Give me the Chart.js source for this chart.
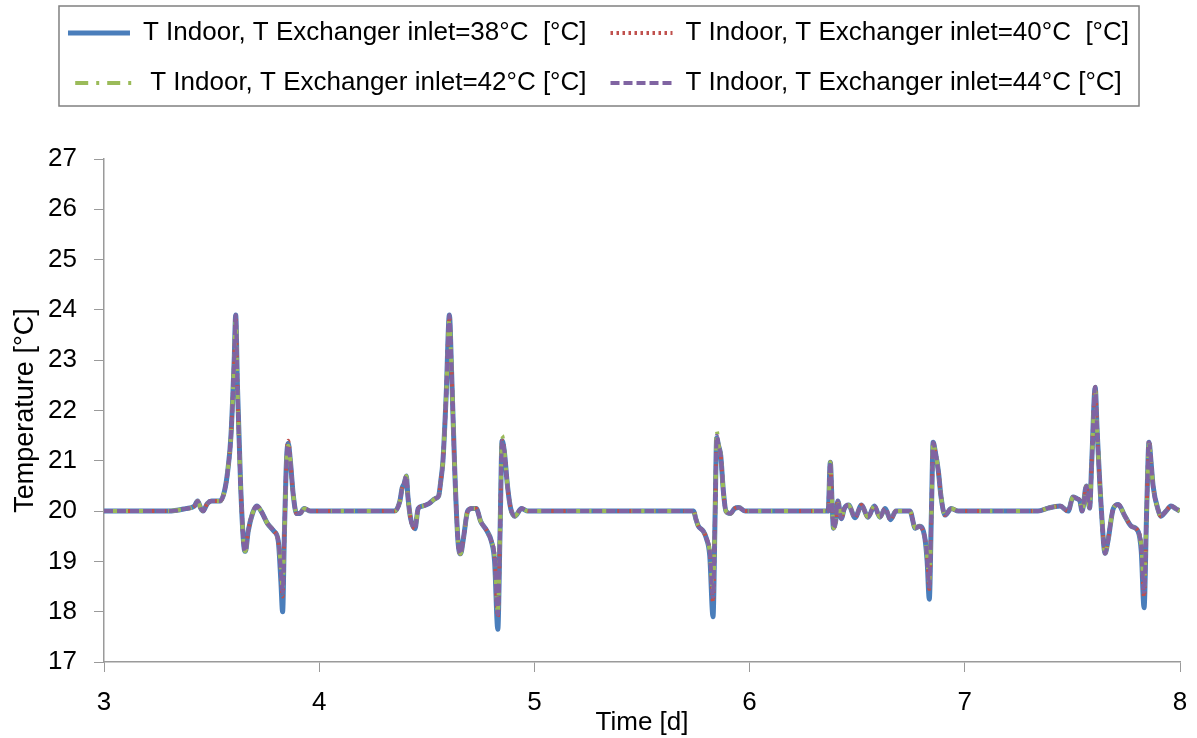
<!DOCTYPE html>
<html lang="en">
<head>
  <meta charset="UTF-8" />
  <title>T Indoor vs exchanger inlet temperature</title>
  <script src="https://cdn.jsdelivr.net/npm/chart.js"></script>
  <style>
    body { margin: 0; background: #fff; }
    canvas { display: block; }
  </style>
</head>
<body>
  <canvas id="tempChart" width="1197" height="738"></canvas>

  <script>
    // time axis, days (shared by all four runs)
    const timeDays = [
      3.00, 3.30, 3.38, 3.42, 3.435, 3.45, 3.46, 3.48, 3.50, 3.54, 3.56, 3.575, 3.59, 3.605, 3.612, 3.62, 3.635, 3.65, 3.657, 3.67, 3.69, 3.71, 3.73, 3.76, 3.79, 3.81, 3.822, 3.83, 3.838, 3.848, 3.856, 3.866, 3.88, 3.895, 3.91, 3.93, 3.96,
      4.35, 4.375, 4.385, 4.395, 4.405, 4.412, 4.425, 4.445, 4.46, 4.48, 4.51, 4.54, 4.555, 4.565, 4.575, 4.59, 4.605, 4.615, 4.63, 4.645, 4.657, 4.67, 4.69, 4.71, 4.73, 4.75, 4.78, 4.80, 4.815, 4.83, 4.84, 4.85, 4.86, 4.875, 4.89, 4.91, 4.94, 4.97,
      5.74, 5.75, 5.762, 5.785, 5.80, 5.815, 5.83, 5.84, 5.847, 5.856, 5.866, 5.878, 5.89, 5.91, 5.93, 5.95, 5.98,
      6.365, 6.375, 6.383, 6.39, 6.40, 6.41, 6.426, 6.44, 6.46, 6.49, 6.52, 6.55, 6.58, 6.605, 6.63, 6.655, 6.68, 6.745, 6.77, 6.79, 6.815, 6.825, 6.835, 6.845, 6.853, 6.862, 6.877, 6.89, 6.908, 6.937, 6.97,
      7.34, 7.387, 7.443, 7.48, 7.503, 7.52, 7.535, 7.545, 7.565, 7.58, 7.59, 7.606, 7.615, 7.635, 7.652, 7.665, 7.69, 7.713, 7.744, 7.774, 7.805, 7.82, 7.833, 7.845, 7.856, 7.865, 7.875, 7.90, 7.91, 7.935, 7.958, 7.98, 8.00
    ];

    // T indoor [°C] per exchanger inlet temperature
    const tIndoor38 = [
      20.00, 20.00, 20.05, 20.10, 20.20, 20.05, 20.00, 20.15, 20.20, 20.20, 20.40, 20.80, 21.50, 23.00, 23.90, 22.50, 20.50, 19.30, 19.20, 19.60, 19.95, 20.10, 20.00, 19.75, 19.60, 19.40, 18.60, 18.00, 19.50, 21.00, 21.35, 21.00, 20.30, 19.95, 19.95, 20.05, 20.00,
      20.00, 20.20, 20.45, 20.55, 20.70, 20.30, 19.85, 19.65, 20.05, 20.10, 20.15, 20.25, 20.30, 20.60, 21.00, 22.30, 23.90, 22.80, 20.80, 19.40, 19.15, 19.45, 20.00, 20.05, 20.05, 19.80, 19.60, 19.40, 19.00, 17.65, 19.50, 21.40, 21.20, 20.50, 20.05, 19.90, 20.05, 20.00,
      20.00, 19.85, 19.70, 19.60, 19.45, 19.10, 17.90, 20.00, 21.45, 21.30, 21.10, 20.40, 20.00, 19.95, 20.05, 20.07, 20.00,
      20.00, 20.97, 20.20, 19.66, 19.80, 20.20, 19.85, 20.05, 20.12, 19.87, 20.12, 19.88, 20.10, 19.88, 20.05, 19.83, 20.00, 20.00, 19.66, 19.70, 19.45, 19.00, 18.25, 20.00, 21.37, 21.20, 20.80, 20.27, 19.92, 20.05, 20.00,
      20.00, 20.06, 20.10, 20.00, 20.28, 20.25, 20.20, 20.00, 20.50, 20.06, 21.00, 22.46, 21.60, 20.00, 19.16, 19.40, 20.05, 20.13, 19.90, 19.70, 19.60, 19.20, 18.08, 20.00, 21.37, 21.00, 20.50, 20.00, 19.90, 20.00, 20.10, 20.05, 20.00
    ];
    const tIndoor40 = [
      20.00, 20.00, 20.05, 20.10, 20.20, 20.05, 20.00, 20.15, 20.20, 20.20, 20.40, 20.80, 21.50, 23.00, 23.85, 22.50, 20.50, 19.30, 19.20, 19.60, 19.95, 20.10, 20.00, 19.75, 19.60, 19.40, 18.80, 18.30, 19.50, 21.00, 21.40, 21.00, 20.30, 19.95, 19.95, 20.05, 20.00,
      20.00, 20.20, 20.45, 20.55, 20.70, 20.30, 19.85, 19.65, 20.05, 20.10, 20.15, 20.25, 20.30, 20.60, 21.00, 22.30, 23.85, 22.80, 20.80, 19.40, 19.15, 19.45, 20.00, 20.05, 20.05, 19.80, 19.60, 19.40, 19.10, 17.90, 19.50, 21.40, 21.20, 20.50, 20.05, 19.90, 20.05, 20.00,
      20.00, 19.85, 19.70, 19.60, 19.45, 19.20, 18.20, 20.00, 21.45, 21.30, 21.10, 20.40, 20.00, 19.95, 20.05, 20.07, 20.00,
      20.00, 20.97, 20.20, 19.66, 19.80, 20.20, 19.85, 20.05, 20.12, 19.87, 20.12, 19.88, 20.10, 19.88, 20.05, 19.83, 20.00, 20.00, 19.66, 19.70, 19.45, 19.10, 18.45, 20.00, 21.37, 21.20, 20.80, 20.27, 19.92, 20.05, 20.00,
      20.00, 20.06, 20.10, 20.00, 20.28, 20.25, 20.20, 20.00, 20.50, 20.06, 21.00, 22.46, 21.60, 20.00, 19.16, 19.40, 20.05, 20.13, 19.90, 19.70, 19.60, 19.30, 18.30, 20.00, 21.40, 21.00, 20.50, 20.00, 19.90, 20.00, 20.10, 20.05, 20.00
    ];
    const tIndoor42 = [
      20.00, 20.00, 20.05, 20.10, 20.20, 20.05, 20.00, 20.15, 20.20, 20.20, 20.40, 20.80, 21.50, 23.00, 23.80, 22.50, 20.50, 19.30, 19.20, 19.60, 19.95, 20.10, 20.00, 19.75, 19.60, 19.40, 18.90, 18.50, 19.50, 21.00, 21.30, 21.00, 20.30, 19.95, 19.95, 20.05, 20.00,
      20.00, 20.20, 20.45, 20.55, 20.70, 20.30, 19.85, 19.65, 20.05, 20.10, 20.15, 20.25, 20.30, 20.60, 21.00, 22.30, 23.80, 22.80, 20.80, 19.40, 19.15, 19.45, 20.00, 20.05, 20.05, 19.80, 19.60, 19.40, 19.10, 18.00, 19.50, 21.50, 21.20, 20.50, 20.05, 19.90, 20.05, 20.00,
      20.00, 19.85, 19.70, 19.60, 19.45, 19.20, 18.40, 20.00, 21.60, 21.30, 21.10, 20.40, 20.00, 19.95, 20.05, 20.07, 20.00,
      20.00, 20.97, 20.20, 19.66, 19.80, 20.20, 19.85, 20.05, 20.12, 19.87, 20.12, 19.88, 20.10, 19.88, 20.05, 19.83, 20.00, 20.00, 19.66, 19.70, 19.45, 19.10, 18.60, 20.00, 21.37, 21.20, 20.80, 20.27, 19.92, 20.05, 20.00,
      20.00, 20.06, 20.10, 20.00, 20.28, 20.25, 20.20, 20.00, 20.50, 20.06, 21.00, 22.40, 21.60, 20.00, 19.16, 19.40, 20.05, 20.13, 19.90, 19.70, 19.60, 19.30, 18.50, 20.00, 21.35, 21.00, 20.50, 20.00, 19.90, 20.00, 20.10, 20.05, 20.00
    ];
    const tIndoor44 = [
      20.00, 20.00, 20.05, 20.10, 20.20, 20.05, 20.00, 20.15, 20.20, 20.20, 20.40, 20.80, 21.50, 23.00, 23.90, 22.50, 20.50, 19.30, 19.20, 19.60, 19.95, 20.10, 20.00, 19.75, 19.60, 19.40, 18.85, 18.40, 19.50, 21.00, 21.30, 21.00, 20.30, 19.95, 19.95, 20.05, 20.00,
      20.00, 20.20, 20.45, 20.55, 20.70, 20.30, 19.85, 19.65, 20.05, 20.10, 20.15, 20.25, 20.30, 20.60, 21.00, 22.30, 23.90, 22.80, 20.80, 19.40, 19.15, 19.45, 20.00, 20.05, 20.05, 19.80, 19.60, 19.40, 19.10, 17.95, 19.50, 21.40, 21.20, 20.50, 20.05, 19.90, 20.05, 20.00,
      20.00, 19.85, 19.70, 19.60, 19.45, 19.20, 18.30, 20.00, 21.50, 21.30, 21.10, 20.40, 20.00, 19.95, 20.05, 20.07, 20.00,
      20.00, 20.97, 20.20, 19.66, 19.80, 20.20, 19.85, 20.05, 20.12, 19.87, 20.12, 19.88, 20.10, 19.88, 20.05, 19.83, 20.00, 20.00, 19.66, 19.70, 19.45, 19.10, 18.50, 20.00, 21.37, 21.20, 20.80, 20.27, 19.92, 20.05, 20.00,
      20.00, 20.06, 20.10, 20.00, 20.28, 20.25, 20.20, 20.00, 20.50, 20.06, 21.00, 22.46, 21.60, 20.00, 19.16, 19.40, 20.05, 20.13, 19.90, 19.70, 19.60, 19.30, 18.40, 20.00, 21.37, 21.00, 20.50, 20.00, 19.90, 20.00, 20.10, 20.05, 20.00
    ];

    const seriesLabels = [
      'T Indoor, T Exchanger inlet=38°C  [°C]',
      'T Indoor, T Exchanger inlet=40°C  [°C]',
      'T Indoor, T Exchanger inlet=42°C [°C]',
      'T Indoor, T Exchanger inlet=44°C [°C]'
    ];

    const FONT = 'Liberation Sans, Arial, sans-serif';
    const AXIS_GREY = '#9a9a9a';

    function toPoints(values) {
      return timeDays.map((t, i) => ({ x: t, y: values[i] }));
    }

    // grey frame around the legend (Excel style)
    const legendFrame = {
      id: 'legendFrame',
      afterDraw(chart) {
        const lg = chart.legend;
        if (!lg || !lg.legendHitBoxes.length) return;
        const boxes = lg.legendHitBoxes;
        const left = Math.min(...boxes.map(b => b.left)) - 9;
        const right = Math.max(...boxes.map(b => b.left + b.width)) + 10;
        const { ctx } = chart;
        ctx.save();
        ctx.strokeStyle = '#808080';
        ctx.lineWidth = 1.5;
        ctx.strokeRect(left, lg.top + 10, right - left, lg.height - 10);
        ctx.restore();
      }
    };

    // legend lines get the dash and width of their series
    function legendLabels(chart) {
      const items = Chart.defaults.plugins.legend.labels.generateLabels(chart);
      items.forEach(item => {
        const ds = chart.data.datasets[item.datasetIndex];
        item.lineDash = ds.borderDash || [];
        item.lineWidth = ds.borderWidth;
        item.strokeStyle = ds.borderColor;
      });
      return items;
    }

    const ctx = document.getElementById('tempChart').getContext('2d');
    new Chart(ctx, {
      type: 'line',
      data: {
        datasets: [
          { label: seriesLabels[0], data: toPoints(tIndoor38), borderColor: '#4a7ebb', borderWidth: 5, order: 4 },
          { label: seriesLabels[1], data: toPoints(tIndoor40), borderColor: '#c0504d', borderWidth: 4, borderDash: [2.5, 3.5], order: 3 },
          { label: seriesLabels[2], data: toPoints(tIndoor42), borderColor: '#9bbb59', borderWidth: 4, borderDash: [13, 8, 3, 8], order: 2 },
          { label: seriesLabels[3], data: toPoints(tIndoor44), borderColor: '#8064a2', borderWidth: 4, borderDash: [9, 4], order: 1 }
        ]
      },
      options: {
        responsive: false,
        animation: false,
        layout: { padding: { top: -4, right: 0, bottom: 0, left: 0 } },
        elements: {
          point: { radius: 0 },
          line: { cubicInterpolationMode: 'monotone', fill: false, borderJoinStyle: 'round' }
        },
        scales: {
          x: {
            type: 'linear',
            min: 3,
            max: 8,
            ticks: { stepSize: 1, color: '#000', padding: 15, font: { family: FONT, size: 26 } },
            grid: { drawOnChartArea: false, color: AXIS_GREY, tickLength: 10 },
            border: { color: AXIS_GREY, width: 1.5 },
            title: { display: true, text: 'Time [d]', color: '#000', padding: { top: 0, bottom: 0 }, font: { family: FONT, size: 26 } },
            afterFit: s => { s.height = 76; s.paddingRight = 17; }
          },
          y: {
            min: 17,
            max: 27,
            ticks: { stepSize: 1, color: '#000', padding: 17, font: { family: FONT, size: 26 } },
            grid: { drawOnChartArea: false, color: AXIS_GREY, tickLength: 10 },
            border: { color: AXIS_GREY, width: 1.5 },
            title: { display: true, text: 'Temperature [°C]', color: '#000', padding: { top: 9, bottom: 0 }, font: { family: FONT, size: 27 } },
            afterFit: s => { s.width = 104; }
          },
          // empty strip between legend and plot area
          gap: {
            type: 'linear',
            position: 'top',
            ticks: { display: false },
            grid: { display: false },
            border: { display: false },
            afterFit: s => { s.height = 53; }
          }
        },
        plugins: {
          legend: {
            position: 'top',
            labels: {
              usePointStyle: true,
              pointStyle: 'line',
              pointStyleWidth: 62,
              padding: 24,
              color: '#000',
              font: { family: FONT, size: 26 },
              generateLabels: legendLabels,
              sort: (a, b) => a.datasetIndex - b.datasetIndex
            }
          },
          tooltip: { enabled: false }
        }
      },
      plugins: [legendFrame]
    });
  </script>
</body>
</html>
